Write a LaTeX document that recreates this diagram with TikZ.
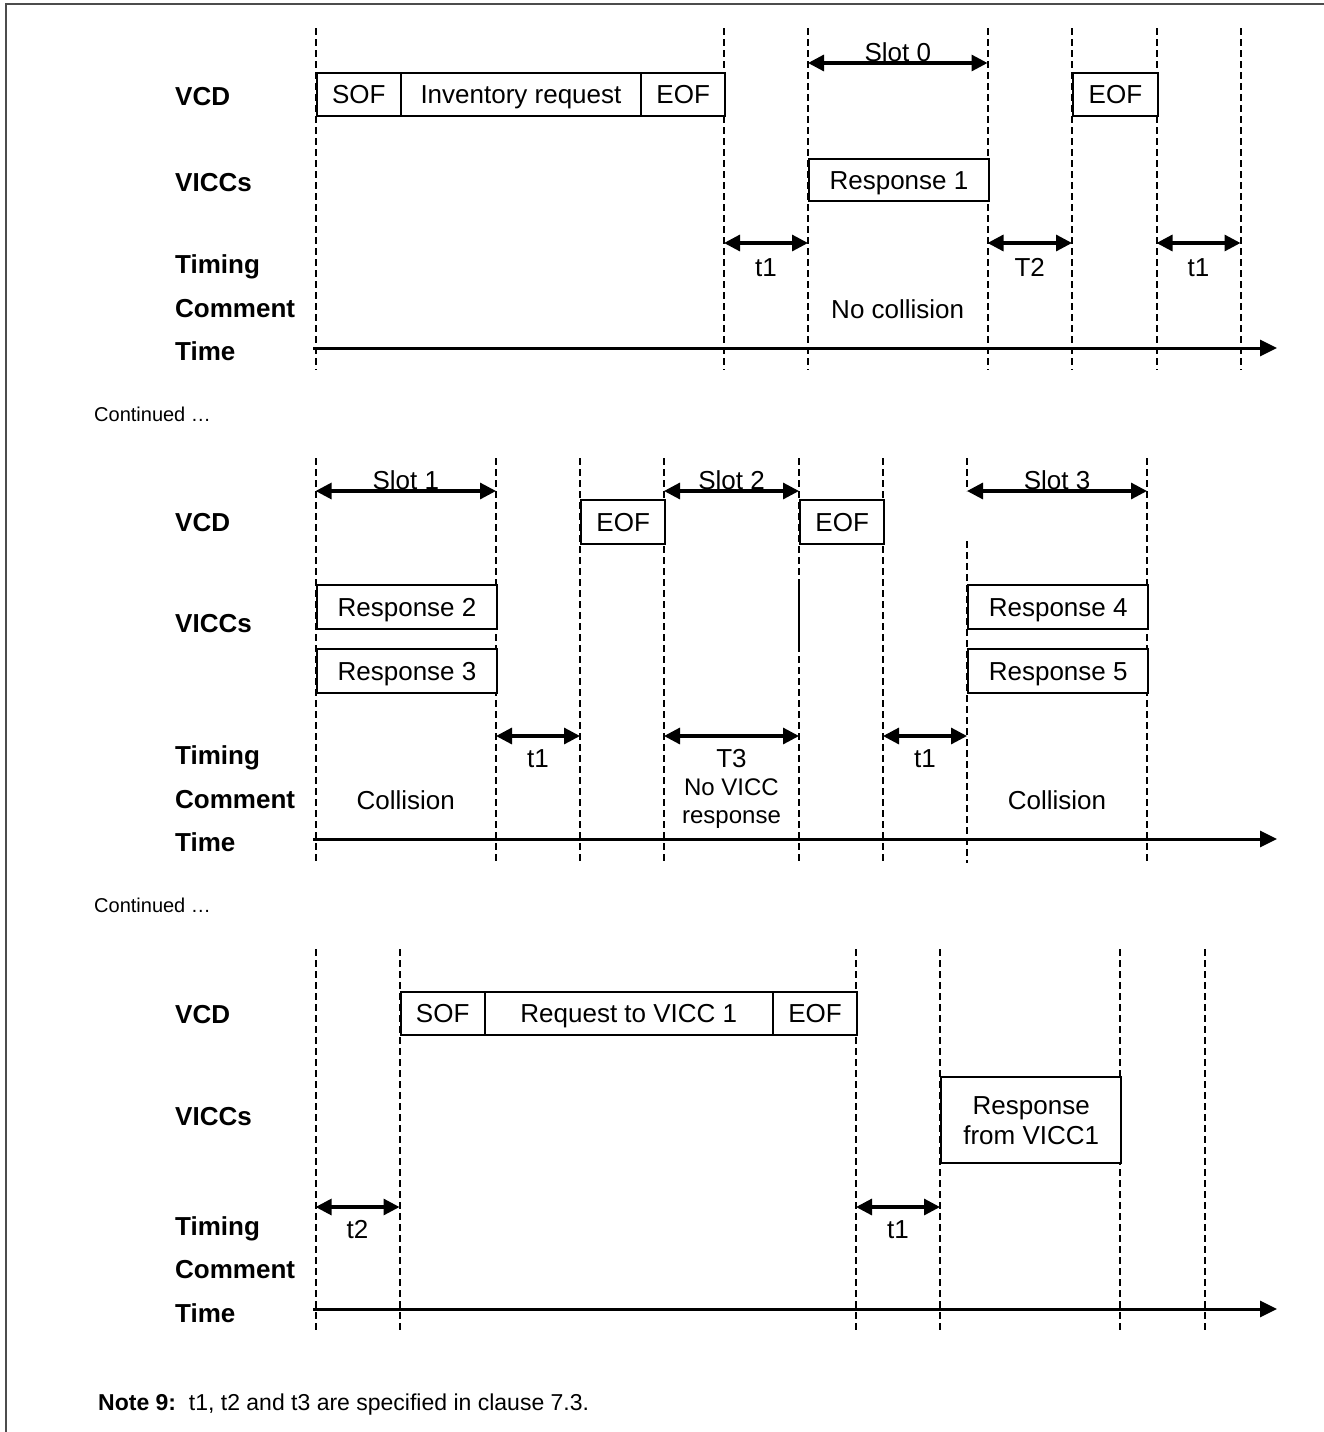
\documentclass[tikz,border=0pt]{standalone}
\usepackage{fontspec}
\setmainfont{Liberation Sans}
\usepackage{tikz}
\usetikzlibrary{arrows.meta}

\tikzset{
  lane/.style={font=\fontsize{26}{30}\selectfont\bfseries, anchor=west, inner sep=0pt},
  box/.style={draw, line width=2.4pt, fill=white, inner sep=0pt, anchor=north west, align=center},
  tag/.style={text height=24pt, text depth=6pt},
  packet/.style={box, tag},
  guide/.style={line width=2pt, dash pattern=on 7pt off 4pt},
  span/.style={{Triangle[length=16pt,width=16pt]}-{Triangle[length=16pt,width=16pt]}, line width=3.2pt},
  timeline/.style={-{Triangle[length=17pt,width=16pt]}, line width=3pt},
  note/.style={anchor=west, inner sep=0pt}
}

\begin{document}
\begin{tikzpicture}[x=1pt, y=-1pt, font=\fontsize{26}{30}\selectfont]
  \useasboundingbox (0,0) rectangle (1324,1432);
  \draw[black!70, line width=2.5pt] (6,1432) -- (6,4) -- (1324,4);

  % first part: inventory request and slot 0
  \foreach \n/\x in {a/315.6, b/724, c/808, d/987.5, e/1072, f/1156.5, g/1240.5}
    \coordinate (p1\n) at (\x,0);
  \foreach \n in {a,b,c,d,e,f,g}
    \draw[guide] (p1\n |- 0,28) -- (p1\n |- 0,370);
  \node[lane] (vcd1) at (175,97) {VCD};
  \node[lane] (vicc1) at (175,183) {VICCs};
  \node[lane] (timing1) at (175,267) {Timing};
  \node[lane] (comment1) at (175,309) {Comment};
  \node[lane] (time1) at (175,351) {Time};
  \node[packet, minimum width=83.9pt, minimum height=43pt] (sof1) at (p1a |- 0,72) {SOF};
  \node[packet, minimum width=240.5pt, minimum height=43pt] (inv1) at (399.5,72) {Inventory request};
  \node[packet, minimum width=84pt, minimum height=43pt] (eof1) at (640,72) {EOF};
  \node[packet, minimum width=84.5pt, minimum height=43pt] (eof2) at (p1e |- 0,72) {EOF};
  \node[packet, minimum width=179.5pt, minimum height=42pt] (resp1) at (p1c |- 0,158) {Response 1};
  \draw[span] (p1c |- 0,63) -- (p1d |- 0,63) node[tag, midway, yshift=11pt] (slot0) {Slot 0};
  \draw[span] (p1b |- 0,243) -- (p1c |- 0,243) node[tag, midway, yshift=-24pt] (ta1) {t1};
  \draw[span] (p1d |- 0,243) -- (p1e |- 0,243) node[tag, midway, yshift=-24pt] (tb1) {T2};
  \draw[span] (p1f |- 0,243) -- (p1g |- 0,243) node[tag, midway, yshift=-24pt] (tc1) {t1};
  \node[tag] (cmt1) at (897.7,309) {No collision};
  \coordinate (end1) at (1277,348);
  \draw[timeline] (313,348) -- (end1);

  % second part: slots 1 to 3
  \node[note, font=\fontsize{20}{24}\selectfont] (cont1) at (94,414) {Continued \dots};
  \foreach \n/\x in {a/315.6, b/496, c/580, d/664, e/799, f/883, g/967, h/1147}
    \coordinate (p2\n) at (\x,0);
  \foreach \n in {a,b,c,d,e,f,h}
    \draw[guide] (p2\n |- 0,458) -- (p2\n |- 0,863);
  \draw[guide] (p2g |- 0,458) -- (p2g |- 0,491);
  \draw[guide] (p2g |- 0,541) -- (p2g |- 0,863);
  \draw[line width=2.4pt] (p2e |- 0,582) -- (p2e |- 0,648);
  \node[lane] (vcd2) at (175,523) {VCD};
  \node[lane] (vicc2) at (175,624) {VICCs};
  \node[lane] (timing2) at (175,758) {Timing};
  \node[lane] (comment2) at (175,800) {Comment};
  \node[lane] (time2) at (175,842) {Time};
  \node[packet, minimum width=84pt, minimum height=44pt] (eof3) at (p2c |- 0,499) {EOF};
  \node[packet, minimum width=84pt, minimum height=44pt] (eof4) at (p2e |- 0,499) {EOF};
  \node[packet, minimum width=180.4pt, minimum height=44pt] (resp2) at (p2a |- 0,584) {Response 2};
  \node[packet, minimum width=180.4pt, minimum height=44pt] (resp3) at (p2a |- 0,648) {Response 3};
  \node[packet, minimum width=180pt, minimum height=44pt] (resp4) at (p2g |- 0,584) {Response 4};
  \node[packet, minimum width=180pt, minimum height=44pt] (resp5) at (p2g |- 0,648) {Response 5};
  \draw[span] (p2a |- 0,491) -- (p2b |- 0,491) node[tag, midway, yshift=11pt] (slot1) {Slot 1};
  \draw[span] (p2d |- 0,491) -- (p2e |- 0,491) node[tag, midway, yshift=11pt] (slot2) {Slot 2};
  \draw[span] (p2g |- 0,491) -- (p2h |- 0,491) node[tag, midway, yshift=11pt] (slot3) {Slot 3};
  \draw[span] (p2b |- 0,736) -- (p2c |- 0,736) node[tag, midway, yshift=-22pt] (ta2) {t1};
  \draw[span] (p2d |- 0,736) -- (p2e |- 0,736) node[tag, midway, yshift=-22pt] (tb2) {T3};
  \draw[span] (p2f |- 0,736) -- (p2g |- 0,736) node[tag, midway, yshift=-22pt] (tc2) {t1};
  \node[tag] (cmt2) at (405.8,800) {Collision};
  \node[align=center, font=\fontsize{24}{28}\selectfont] (cmt3) at (731.5,804) {No VICC\\response};
  \node[tag] (cmt4) at (1057,800) {Collision};
  \coordinate (end2) at (1277,839);
  \draw[timeline] (313,839) -- (end2);

  % third part: request to VICC 1
  \node[note, font=\fontsize{20}{24}\selectfont] (cont2) at (94,905) {Continued \dots};
  \foreach \n/\x in {a/315.6, b/399.5, c/856, d/940, e/1120, f/1204.5}
    \coordinate (p3\n) at (\x,0);
  \foreach \n in {a,b,c,d,e,f}
    \draw[guide] (p3\n |- 0,949) -- (p3\n |- 0,1332);
  \node[lane] (vcd3) at (175,1015) {VCD};
  \node[lane] (vicc3) at (175,1117) {VICCs};
  \node[lane] (timing3) at (175,1229) {Timing};
  \node[lane] (comment3) at (175,1270) {Comment};
  \node[lane] (time3) at (175,1313) {Time};
  \node[packet, minimum width=84pt, minimum height=43pt] (sof2) at (p3b |- 0,991) {SOF};
  \node[packet, minimum width=288.2pt, minimum height=43pt] (req1) at (483.5,991) {Request to VICC 1};
  \node[packet, minimum width=84.3pt, minimum height=43pt] (eof5) at (771.7,991) {EOF};
  \node[box, minimum width=180pt, minimum height=86pt] (resp6) at (p3d |- 0,1076) {Response\\from VICC1};
  \draw[span] (p3a |- 0,1207) -- (p3b |- 0,1207) node[tag, midway, yshift=-22pt] (ta3) {t2};
  \draw[span] (p3c |- 0,1207) -- (p3d |- 0,1207) node[tag, midway, yshift=-22pt] (tb3) {t1};
  \coordinate (end3) at (1277,1309);
  \draw[timeline] (313,1309) -- (end3);

  \node[note, font=\fontsize{23}{27}\selectfont] (note9) at (98,1405)
    {\textbf{Note 9:}\ \ t1, t2 and t3 are specified in clause 7.3.};
\end{tikzpicture}
\end{document}
